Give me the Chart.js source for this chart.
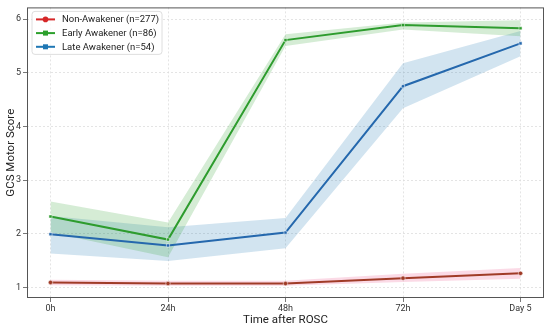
<!DOCTYPE html>
<html>
<head>
<meta charset="utf-8">
<script src="https://cdn.jsdelivr.net/npm/chart.js@4.4.1/dist/chart.umd.min.js"></script>
<style>
  body { margin: 0; background: #fff; }
  #wrap { width: 550px; height: 329px; }
</style>
</head>
<body>
<div id="wrap"><canvas id="gcsChart"></canvas></div>
<script>
// time points (category index on a linear axis)
const timeLabels = ['0h', '24h', '48h', '72h', 'Day 5'];
const yTicks = [1, 2, 3, 4, 5, 6];

// mean GCS motor score per group
const nonAwakener = [1.09, 1.07, 1.07, 1.17, 1.26];
const earlyAwakener = [2.32, 1.89, 5.61, 5.89, 5.83];
const lateAwakener = [1.99, 1.78, 2.02, 4.75, 5.55];

// confidence bands (upper / lower)
const nonAwakenerHi = [1.14, 1.12, 1.12, 1.25, 1.36];
const nonAwakenerLo = [1.04, 1.03, 1.03, 1.10, 1.16];
const earlyAwakenerHi = [2.60, 2.21, 5.72, 5.94, 5.98];
const earlyAwakenerLo = [2.02, 1.56, 5.50, 5.81, 5.68];
const lateAwakenerHi = [2.33, 2.12, 2.29, 5.18, 5.78];
const lateAwakenerLo = [1.63, 1.49, 1.73, 4.34, 5.31];

const toPts = arr => arr.map((v, i) => ({ x: i, y: v }));

function band(data, rgb, fillTarget) {
    return {
        label: '',
        data: toPts(data),
        borderWidth: 0,
        pointRadius: 0,
        backgroundColor: 'rgba(' + rgb + ',0.2)',
        fill: fillTarget === undefined ? false : fillTarget
    };
}

function line(label, data, color, style) {
    return {
        label: label,
        data: toPts(data),
        borderColor: color,
        backgroundColor: color,
        borderWidth: 2,
        pointStyle: style,
        pointRadius: 2.2,
        pointBorderColor: '#fff',
        pointBorderWidth: 0.5,
        fill: false,
        tension: 0
    };
}

// legend drawn inside the axes, top-left
const legendItems = [
    { text: 'Non-Awakener (n=277)', color: '#d62728', style: 'circle' },
    { text: 'Early Awakener (n=86)', color: '#2ca02c', style: 'rect' },
    { text: 'Late Awakener (n=54)', color: '#1f77b4', style: 'rect' }
];

const frameAndLegend = {
    id: 'frameAndLegend',
    afterDraw(chart) {
        const { ctx, chartArea: a } = chart;
        ctx.save();
        // axes frame
        ctx.strokeStyle = '#555';
        ctx.lineWidth = 1;
        ctx.strokeRect(a.left + 0.5, a.top + 0.5, a.right - a.left - 1, a.bottom - a.top - 1);

        // legend box
        const bx = a.left + 5, by = a.top + 4, bw = 130, bh = 43, r = 3;
        ctx.beginPath();
        ctx.moveTo(bx + r, by);
        ctx.arcTo(bx + bw, by, bx + bw, by + bh, r);
        ctx.arcTo(bx + bw, by + bh, bx, by + bh, r);
        ctx.arcTo(bx, by + bh, bx, by, r);
        ctx.arcTo(bx, by, bx + bw, by, r);
        ctx.closePath();
        ctx.fillStyle = 'rgba(255,255,255,0.85)';
        ctx.fill();
        ctx.strokeStyle = '#d6d6d6';
        ctx.lineWidth = 0.8;
        ctx.stroke();

        ctx.font = '9.5px Roboto';
        ctx.textBaseline = 'middle';
        legendItems.forEach((it, i) => {
            const y = by + 8 + i * 13.7;
            ctx.strokeStyle = it.color;
            ctx.lineWidth = 2;
            ctx.beginPath();
            ctx.moveTo(bx + 4, y);
            ctx.lineTo(bx + 23, y);
            ctx.stroke();
            ctx.fillStyle = it.color;
            if (it.style === 'circle') {
                ctx.beginPath();
                ctx.arc(bx + 13.5, y, 2.8, 0, Math.PI * 2);
                ctx.fill();
            } else {
                ctx.fillRect(bx + 11, y - 2.5, 5, 5);
            }
            ctx.fillStyle = '#222';
            ctx.fillText(it.text, bx + 30, y + 0.5);
        });
        ctx.restore();
    }
};

const ctx = document.getElementById('gcsChart').getContext('2d');

new Chart(ctx, {
    type: 'line',
    data: {
        datasets: [
            line('Non-Awakener (n=277)', nonAwakener, '#a03b27', 'circle'),
            line('Early Awakener (n=86)', earlyAwakener, '#2e9c2e', 'rect'),
            line('Late Awakener (n=54)', lateAwakener, '#2568ad', 'rect'),
            band(nonAwakenerHi, '235,70,130'),
            band(nonAwakenerLo, '235,70,130', 3),
            band(earlyAwakenerHi, '44,160,44'),
            band(earlyAwakenerLo, '44,160,44', 5),
            band(lateAwakenerHi, '31,119,180'),
            band(lateAwakenerLo, '31,119,180', 7)
        ]
    },
    options: {
        responsive: true,
        maintainAspectRatio: false,
        animation: false,
        layout: {
            padding: { top: 7, right: 6, left: 4, bottom: 2 }
        },
        plugins: {
            legend: { display: false },
            tooltip: { enabled: false }
        },
        scales: {
            x: {
                type: 'linear',
                min: -0.2,
                max: 4.2,
                afterBuildTicks: s => { s.ticks = timeLabels.map((t, i) => ({ value: i })); },
                afterFit: s => { s.height = 29; },
                ticks: {
                    callback: v => timeLabels[v],
                    font: { family: 'Roboto', size: 9 },
                    color: '#333',
                    padding: 1,
                    maxRotation: 0
                },
                grid: {
                    color: '#dedede',
                    lineWidth: 0.8,
                    tickColor: '#555',
                    tickLength: 4,
                    tickWidth: 0.8,
                    tickBorderDash: []
                },
                border: { display: false, dash: [2, 2] },
                title: {
                    display: true,
                    text: 'Time after ROSC',
                    font: { family: 'Roboto', size: 11.5 },
                    color: '#222',
                    padding: { top: 0, bottom: 0 }
                }
            },
            y: {
                min: 0.8,
                max: 6.22,
                afterBuildTicks: s => { s.ticks = yTicks.map(v => ({ value: v })); },
                afterFit: s => { s.width = 23; },
                ticks: {
                    font: { family: 'Roboto', size: 9 },
                    color: '#333',
                    padding: 2
                },
                grid: {
                    color: '#dedede',
                    lineWidth: 0.8,
                    tickColor: '#555',
                    tickLength: 4,
                    tickWidth: 0.8,
                    tickBorderDash: []
                },
                border: { display: false, dash: [2, 2] },
                title: {
                    display: true,
                    text: 'GCS Motor Score',
                    font: { family: 'Roboto', size: 11.5 },
                    color: '#222',
                    padding: { top: 0, bottom: 0 }
                }
            }
        }
    },
    plugins: [frameAndLegend]
});
</script>
</body>
</html>
